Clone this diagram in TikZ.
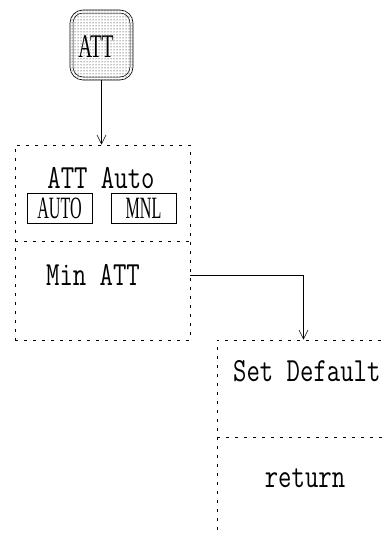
\documentclass[tikz,border=0pt]{standalone}
\usepackage{fontspec}
\usetikzlibrary{arrows.meta,patterns}
\newfontfamily\serf{Liberation Serif}
\newcommand{\mtxt}[1]{\scalebox{1}[1.3]{\fontsize{26}{26}\selectfont\ttfamily\addfontfeature{FakeStretch=0.72,LetterSpace=19}#1}}
\newcommand{\ctxt}[3]{\scalebox{#1}[1]{\fontsize{#2}{#2}\selectfont\serf #3}}
\tikzset{
  dbox/.style={draw, line width=0.6pt, dash pattern=on 3pt off 6pt, inner sep=0pt},
  kbox/.style={draw, line width=0.6pt, inner sep=0pt, minimum width=65pt, minimum height=30pt},
  conn/.style={draw, line width=0.6pt, -{Straight Barb[length=9pt,width=9pt,line width=0.6pt]}},
  lbl/.style={inner sep=0pt}
}
\begin{document}
\begin{tikzpicture}[x=1pt,y=-1pt]
\useasboundingbox (0,0) rectangle (385,533);
\clip (0,0) rectangle (385,533);
% top ATT key
\node[draw, line width=0.6pt, rounded corners=13pt, pattern=dots, pattern color=black,
      minimum width=63pt, minimum height=70pt, inner sep=0pt] (att) at (101.5,45) {};
\node[draw, line width=0.5pt, rounded corners=10pt, minimum width=57pt, minimum height=64pt,
      inner sep=0pt] (attin) at (101.5,45) {};
\node[lbl] (attl) at (96,47) {\ctxt{0.58}{33}{ATT}};
% box 1
\node[dbox, minimum width=175pt, minimum height=195pt] (b1) at (102.5,242.5) {};
\coordinate (d1l) at (15,241);
\coordinate (d1r) at (190,241);
\draw[dbox] (d1l) -- (d1r);
\node[lbl] (attauto) at (101,178) {\mtxt{ATT Auto}};
\node[kbox] (auto) at (59.5,208) {\ctxt{0.52}{31}{AUTO}};
\node[kbox] (mnl) at (143.5,208) {\ctxt{0.52}{31}{MNL}};
\node[lbl] (minatt) at (93,275) {\mtxt{Min ATT}};
% box 2
\node[dbox, minimum width=173pt, minimum height=205pt] (b2) at (303.5,442.5) {};
\coordinate (d2l) at (217,437);
\coordinate (d2r) at (390,437);
\draw[dbox] (d2l) -- (d2r);
\node[lbl, anchor=west] (setdef) at (233,371) {\mtxt{Set Default}};
\node[lbl] (ret) at (305,478) {\mtxt{return}};
% connectors
\draw[conn] (att.south) -- (att.south |- b1.north);
\draw[conn] (minatt -| b1.east) -| (b2.north);
\end{tikzpicture}
\end{document}
